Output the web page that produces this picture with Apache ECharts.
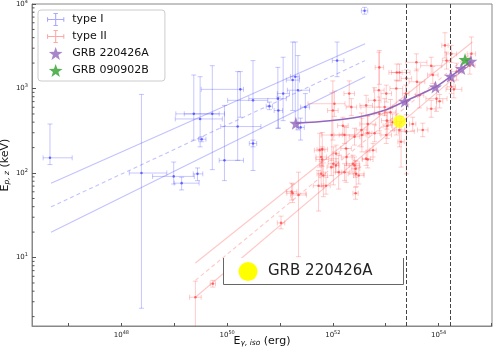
<!DOCTYPE html>
<html>
<head>
<meta charset="utf-8">
<script src="https://cdn.jsdelivr.net/npm/echarts@6/dist/echarts.min.js"></script>
<style>html,body{margin:0;padding:0;background:#fff}#c{width:499px;height:352px}</style>
</head>
<body>
<div id="c"></div>
<script>
// ---- data (log10 values): [logEiso, logEp, logEiso_lo, logEiso_hi, logEp_lo, logEp_hi]
const typeI = [
 [46.65,2.18,46.52,47.07,2.10,2.58],[48.38,2.00,48.15,48.86,0.40,2.93],[48.99,1.96,48.59,49.38,1.87,2.13],
 [49.14,1.88,49.00,49.47,1.80,1.95],[49.44,1.99,49.36,49.54,1.91,2.06],[49.37,2.70,49.03,49.85,2.39,3.16],
 [49.49,2.64,49.02,49.91,2.31,3.14],[49.72,2.70,49.19,49.95,2.04,3.27],[49.52,2.40,49.46,49.60,2.37,2.43],
 [50.25,2.99,49.51,50.31,2.66,3.20],[49.95,2.15,49.85,50.31,1.91,2.80],[50.20,2.55,49.88,50.64,2.15,3.20],
 [50.49,2.86,50.01,50.77,2.03,3.33],[50.49,2.35,50.42,50.56,2.31,2.39],[50.96,2.88,50.41,51.12,2.53,3.25],
 [50.80,2.79,50.74,50.86,2.75,2.84],[50.97,2.74,50.89,51.05,2.53,2.90],[51.06,2.94,50.95,51.18,2.62,3.37],
 [51.29,3.14,51.20,51.37,2.59,3.55],[51.34,2.98,51.14,51.56,2.51,3.39],[51.48,2.78,51.39,51.56,2.60,2.94],
 [51.39,2.54,51.31,51.46,2.39,2.65],[52.60,3.92,52.54,52.66,3.88,3.96],[52.08,3.33,51.99,52.21,3.14,3.55],
 [51.24,3.10,51.12,51.37,2.74,3.55]
];
const typeII = [
 [49.40,0.53,49.29,49.51,0.00,0.72],[49.73,0.69,49.68,49.78,0.65,0.73],[51.02,1.41,50.95,51.09,1.34,1.49],
 [51.24,1.76,51.13,51.49,1.65,1.87],[51.35,1.74,51.20,51.50,1.01,2.01],[51.22,1.78,51.12,51.32,1.68,1.88],
 [51.73,1.85,51.63,51.83,1.55,2.03],[51.82,1.97,51.74,51.90,1.72,2.12],[51.87,1.85,51.79,51.95,1.75,1.95],
 [51.80,2.16,51.68,51.92,2.01,2.31],[51.80,2.28,51.70,51.90,2.08,2.48],[52.01,2.11,51.91,52.11,1.86,2.31],
 [52.06,2.23,52.00,52.12,2.13,2.33],[52.11,2.01,52.05,52.17,1.81,2.21],[52.25,2.29,52.15,52.35,1.89,2.54],
 [52.22,2.01,52.12,52.32,1.91,2.11],[52.38,2.11,52.26,52.50,2.01,2.21],[52.43,2.05,52.35,52.51,1.95,2.15],
 [52.44,1.99,52.29,52.59,1.84,2.14],[52.49,1.97,52.39,52.59,1.87,2.07],[52.43,1.76,52.38,52.48,1.69,1.83],
 [52.66,2.16,52.56,52.76,2.06,2.26],[52.76,2.27,52.70,52.82,2.19,2.35],[52.55,2.45,52.12,52.63,2.25,2.65],
 [52.66,2.47,52.58,52.74,2.27,2.67],[52.79,2.47,52.69,52.89,2.37,2.57],[53.01,2.45,52.91,53.11,2.35,2.55],
 [53.03,2.56,52.95,53.11,2.41,2.71],[53.39,2.49,53.24,53.54,1.99,2.69],[53.29,2.37,53.23,53.35,2.07,2.67],
 [51.75,2.27,51.65,51.85,2.07,2.47],[51.98,2.45,51.78,52.18,2.15,2.95],[52.22,2.45,52.02,52.42,2.35,2.55],
 [52.41,2.43,52.31,52.51,2.33,2.53],[52.54,2.51,52.44,52.64,2.31,2.71],[52.66,2.58,52.51,52.81,2.48,2.68],
 [52.63,2.80,52.51,52.75,2.68,2.92],[52.87,2.98,52.77,52.97,2.78,3.43],[52.98,2.78,52.53,53.13,2.68,2.88],
 [53.02,2.62,52.92,53.12,2.52,2.72],[53.09,2.72,52.99,53.19,2.57,2.87],[53.13,2.60,53.05,53.21,2.50,2.70],
 [53.20,3.00,53.08,53.32,2.45,3.10],[53.26,3.19,53.06,53.46,3.09,3.29],[53.39,3.12,53.29,53.49,2.82,3.22],
 [53.38,2.94,53.32,53.44,2.84,3.04],[53.58,3.31,53.38,53.78,3.21,3.41],[53.59,3.08,53.44,53.74,2.93,3.23],
 [53.64,2.92,53.56,53.72,2.77,3.07],[53.86,3.27,53.66,54.06,3.17,3.37],[53.89,3.16,53.79,53.99,3.06,3.26],
 [53.96,2.88,53.76,54.16,2.73,3.03],[53.86,2.76,53.78,53.94,2.66,2.86],[54.12,3.51,54.06,54.18,3.36,3.66],
 [54.15,3.33,54.07,54.23,3.23,3.43],[53.70,2.51,53.60,53.80,2.43,2.59],[53.51,2.58,53.45,53.57,2.50,2.66],
 [53.26,2.51,53.16,53.36,2.31,2.61],[54.24,3.41,54.14,54.34,3.31,3.51],[54.34,3.20,54.24,54.44,3.10,3.30],
 [54.62,3.41,54.54,54.70,3.31,3.61],[54.59,3.27,54.49,54.69,3.17,3.37],[52.19,2.56,52.09,52.29,2.46,2.66],
 [52.00,2.74,51.90,52.10,2.39,3.09],[52.03,2.82,51.53,52.23,2.67,2.97],[52.31,2.94,52.21,52.41,2.79,3.09],
 [52.35,2.78,52.25,52.45,2.68,2.88],[52.88,2.70,52.78,52.98,2.50,2.90],[53.01,2.94,52.91,53.11,2.84,3.04],
 [52.79,2.86,52.67,52.91,2.71,3.01],[54.29,2.99,54.14,54.44,2.89,3.09],[54.02,2.85,53.96,54.08,2.77,2.93],
 [52.88,3.25,52.80,52.96,3.05,3.45],[53.21,3.19,53.11,53.31,3.09,3.29],[51.78,2.19,51.68,51.88,2.09,2.29],
 [51.97,2.07,51.89,52.05,1.97,2.17],[52.26,2.19,52.16,52.36,2.09,2.29],[51.78,1.99,51.70,51.86,1.84,2.14],
 [52.06,2.09,52.00,52.12,2.01,2.17],[52.63,2.17,52.55,52.71,2.09,2.25],[52.41,2.09,52.31,52.51,1.99,2.19],
 [54.24,3.02,54.16,54.32,2.94,3.10]
];
// fit lines (log10): [[x0,y0],[x1,y1]]
const fitI_upper = [[46.67,1.88],[52.61,3.53]];
const fitI_mid   = [[46.67,1.60],[52.61,3.33]];
const fitI_lower = [[46.67,1.30],[52.61,3.14]];
const fitII_upper = [[49.40,0.935],[54.64,3.55]];
const fitII_mid   = [[49.40,0.73],[54.64,3.43]];
const fitII_lower = [[49.40,0.53],[54.64,3.31]];
// GRB 220426A track (log10)
const grb220426A_curve = [[51.30,2.588],[51.94,2.618],[52.51,2.665],[52.98,2.742],[53.36,2.848],[53.94,3.018],[54.23,3.144],[54.43,3.236],[54.61,3.322]];
const grb220426A_stars = [[51.30,2.588],[53.36,2.848],[53.94,3.018],[54.23,3.144],[54.43,3.236],[54.61,3.322]];
const grb090902B = [[54.50,3.342]];
const yellowPoint = [[53.26,2.61]];
const vLines = [53.39, 54.22];
// axes (log10)
const xRange = [46.31, 55.01];
const yRange = [0.19, 4.0];
const yMinorSubs = [2,3,4,5,6,7,8,9];
const yDecades = [0,1,2,3];

const P = v => Math.pow(10, v);
const toVals = arr => arr.map(r => r.map(P));
const STAR = 'path://M10,0 L12.35,6.76 L19.51,6.91 L13.8,11.24 L15.88,18.09 L10,14 L4.12,18.09 L6.2,11.24 L0.49,6.91 L7.65,6.76 Z';
const ERRICON = 'path://M2,6.5H18V7.5H2Z M9.5,1H10.5V13H9.5Z M2,5H3V9H2Z M17,5H18V9H17Z M8,1H12V2H8Z M8,12H12V13H8Z';

function errRender(stroke, dot) {
  return function (params, api) {
    const x = api.value(0), y = api.value(1);
    const c = api.coord([x, y]);
    const L = api.coord([api.value(2), y]), R = api.coord([api.value(3), y]);
    const T = api.coord([x, api.value(5)]), B = api.coord([x, api.value(4)]);
    const cap = 2.5;
    const st = {stroke: stroke, lineWidth: 1, fill: null};
    const ln = (x1,y1,x2,y2) => ({type:'line', shape:{x1,y1,x2,y2}, style: st});
    return {type:'group', children:[
      ln(L[0],c[1],R[0],c[1]), ln(c[0],T[1],c[0],B[1]),
      ln(L[0],c[1]-cap,L[0],c[1]+cap), ln(R[0],c[1]-cap,R[0],c[1]+cap),
      ln(c[0]-cap,T[1],c[0]+cap,T[1]), ln(c[0]-cap,B[1],c[0]+cap,B[1]),
      {type:'circle', shape:{cx:c[0], cy:c[1], r:1.3}, style:{fill: dot}}
    ]};
  };
}

function lineSeries(name, pts, color, dashed) {
  return {type:'line', name: name, data: toVals(pts), symbol:'none', silent:true,
    lineStyle:{color: color, width: 1.1, type: dashed ? [4,3] : 'solid'}, z: 3};
}

const minorData = [];
yDecades.forEach(d => yMinorSubs.forEach(s => {
  const v = s * P(d);
  if (v > P(yRange[0]) && v < P(yRange[1])) minorData.push([P(xRange[0]), v]);
}));

const expLabel = (keepEven) => function (value) {
  const l = Math.log10(value), r = Math.round(l);
  if (Math.abs(l - r) > 1e-6) return '';
  if (keepEven && r % 2 !== 0) return '';
  return '{b|10}{e|' + r + '}';
};
const tickRich = {b:{fontSize:7, color:'#222', fontFamily:'DejaVu Sans'}, e:{fontSize:5, color:'#222', fontFamily:'DejaVu Sans', padding:[0,0,5,0]}};

const chart = echarts.init(document.getElementById('c'), null, {renderer:'canvas'});
chart.setOption({
  animation:false,
  backgroundColor:'#fff',
  grid:{left:32, right:7, top:4, bottom:26, show:true, borderColor:'#888', borderWidth:1, backgroundColor:'transparent', containLabel:false, outerBoundsMode:'none'},
  legend:{
    orient:'vertical', left:38, top:10, padding:[3,16,4,9], itemGap:4, itemWidth:23, itemHeight:13,
    backgroundColor:'rgba(255,255,255,0.9)', borderColor:'#ccc', borderWidth:1, borderRadius:3,
    textStyle:{fontSize:11, color:'#111', fontFamily:'DejaVu Sans'},
    data:[
      {name:'type I', icon: ERRICON},
      {name:'type II', icon: ERRICON},
      {name:'GRB 220426A', icon: STAR},
      {name:'GRB 090902B', icon: STAR}
    ]
  },
  xAxis:{
    type:'log', logBase:10, min:P(xRange[0]), max:P(xRange[1]),
    splitLine:{show:false},
    axisLine:{show:true, lineStyle:{color:'#888'}},
    axisTick:{show:true, inside:true, length:3, lineStyle:{color:'#555'}},
    axisLabel:{formatter: expLabel(true), rich: tickRich, margin:4, showMinLabel:false, showMaxLabel:false},
    name:'{a|E}{b|γ, iso}{a| (erg)}', nameLocation:'middle', nameGap:10, nameMoveOverlap:false,
    nameTextStyle:{rich:{a:{fontSize:11, color:'#111', fontFamily:'DejaVu Sans', padding:[0,0,3,0]}, b:{fontSize:7.5, fontStyle:'italic', color:'#111', fontFamily:'DejaVu Sans'}}}
  },
  yAxis:{
    type:'log', logBase:10, min:P(yRange[0]), max:P(yRange[1]),
    splitLine:{show:false},
    axisLine:{show:true, lineStyle:{color:'#888'}},
    axisTick:{show:true, inside:true, length:4, lineStyle:{color:'#555'}},
    axisLabel:{formatter: expLabel(false), rich: tickRich, margin:4, showMinLabel:false},
    name:'{a|E}{b|p, z}{a| (keV)}', nameLocation:'middle', nameGap:18, nameRotate:90, nameMoveOverlap:false,
    nameTextStyle:{rich:{a:{fontSize:11, color:'#111', fontFamily:'DejaVu Sans', padding:[0,0,3,0]}, b:{fontSize:7.5, fontStyle:'italic', color:'#111', fontFamily:'DejaVu Sans'}}}
  },
  series:[
    {type:'custom', name:'yMinor', silent:true, data: minorData, z:1,
     renderItem:function(params, api){ const p = api.coord([api.value(0), api.value(1)]);
       return {type:'line', shape:{x1:p[0], y1:p[1], x2:p[0]+2.5, y2:p[1]}, style:{stroke:'#555', lineWidth:1}}; }},
    {type:'custom', name:'type I', data: toVals(typeI), renderItem: errRender('rgba(40,40,255,0.26)','rgba(40,40,255,0.6)'),
     itemStyle:{color:'rgba(110,110,255,0.6)'}, clip:true, z:2, encode:{x:[0,2,3], y:[1,4,5]}},
    {type:'custom', name:'type II', data: toVals(typeII), renderItem: errRender('rgba(255,40,40,0.24)','rgba(255,40,40,0.6)'),
     itemStyle:{color:'rgba(255,110,110,0.6)'}, clip:true, z:2, encode:{x:[0,2,3], y:[1,4,5]}},
    lineSeries('fitI_u', fitI_upper, 'rgba(80,80,255,0.35)', false),
    lineSeries('fitI_m', fitI_mid, 'rgba(80,80,255,0.35)', true),
    lineSeries('fitI_l', fitI_lower, 'rgba(80,80,255,0.35)', false),
    lineSeries('fitII_u', fitII_upper, 'rgba(255,80,80,0.32)', false),
    lineSeries('fitII_m', fitII_mid, 'rgba(255,80,80,0.32)', true),
    lineSeries('fitII_l', fitII_lower, 'rgba(255,80,80,0.32)', false),
    {type:'scatter', name:'GRB 220426A point', data: toVals(yellowPoint), symbol:'circle', symbolSize:13,
     itemStyle:{color:'#ffff00'}, z:5,
     markLine:{silent:true, symbol:'none', label:{show:false},
       lineStyle:{type:[4,2], color:'#444', width:1},
       data: vLines.map(v => ({xAxis: P(v)}))}},
    {type:'line', name:'track', data: toVals(grb220426A_curve), smooth:0.3, symbol:'none', silent:true,
     lineStyle:{color:'#9467bd', width:1.5}, z:6},
    {type:'scatter', name:'GRB 220426A', data: toVals(grb220426A_stars), symbol: STAR, symbolSize:13,
     itemStyle:{color:'#9467bd'}, z:7},
    {type:'scatter', name:'GRB 090902B', data: toVals(grb090902B), symbol: STAR, symbolSize:13,
     itemStyle:{color:'#2ca02c'}, z:8}
  ],
  graphic:[
    {type:'rect', shape:{x:223, y:258, width:180, height:27}, style:{fill:'#fff'}, z:20},
    {type:'polyline', shape:{points:[[223.5,258],[223.5,284.5],[403.5,284.5],[403.5,258]]}, style:{stroke:'#666', lineWidth:1, fill:null}, z:21},
    {type:'circle', shape:{cx:248, cy:271.5, r:9.5}, style:{fill:'#ffff00'}, z:21},
    {type:'text', x:268, y:271.5, style:{text:'GRB 220426A', fontSize:15, fontFamily:'DejaVu Sans', fill:'#222', verticalAlign:'middle'}, z:21}
  ]
});
</script>
</body>
</html>
